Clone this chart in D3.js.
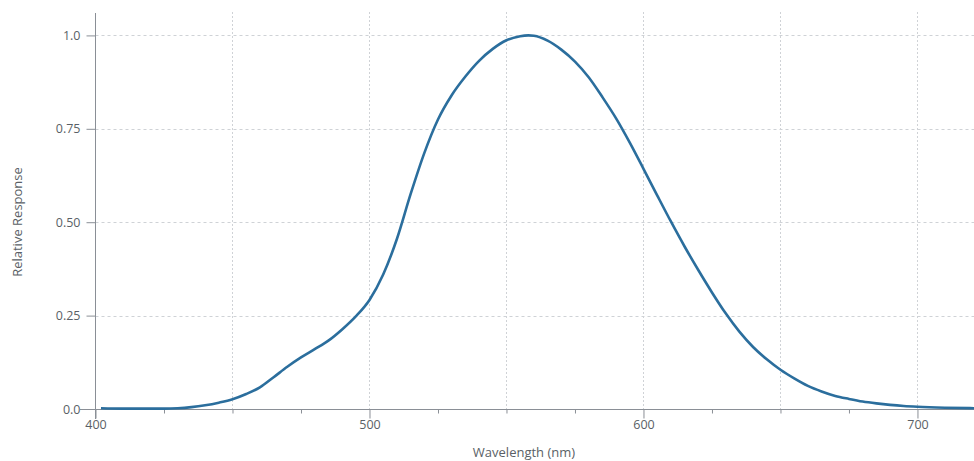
<!DOCTYPE html>
<html><head><meta charset="utf-8">
<script src="https://cdn.jsdelivr.net/npm/d3@7"></script>
<style>
body{margin:0;background:#fff;}
svg{display:block;}
text{font-family:"Open Sans","Noto Sans",sans-serif;}
</style></head>
<body>
<script>
const wavelength = [402,410,420,425,430,435,440,445,450,455,460,465,470,475,480,485,490,495,500,505,510,515,520,525,530,535,540,545,550,555,558,560,565,570,575,580,585,590,595,600,605,610,615,620,625,630,635,640,645,650,655,660,665,670,675,680,685,690,695,700,710,722];
const response   = [0.002,0.001,0.001,0.001,0.002,0.005,0.010,0.017,0.026,0.040,0.058,0.085,0.113,0.138,0.160,0.183,0.213,0.248,0.292,0.360,0.455,0.575,0.685,0.775,0.840,0.890,0.932,0.964,0.987,0.998,1.0,0.999,0.986,0.962,0.930,0.888,0.835,0.778,0.713,0.643,0.572,0.502,0.435,0.372,0.312,0.256,0.207,0.166,0.133,0.105,0.082,0.062,0.047,0.035,0.027,0.020,0.015,0.011,0.008,0.006,0.0035,0.002];
const xTickLabels = [400,500,600,700];
const yTickValues = [0,0.25,0.5,0.75,1.0];
const yTickLabels = ["0.0","0.25","0.50","0.75","1.0"];
const xGridValues = [450,500,550,600,650,700];
const xMinorTicks = [425,450,475,525,550,575,625,650,675,725];

const W=974,H=461;
const svg=d3.select("body").append("svg").attr("width",W).attr("height",H);
const x=d3.scaleLinear().domain([400,721]).range([95.5,975]);
const y=d3.scaleLinear().domain([0,1.06]).range([409,13]);
const axisCol="#8a8f96", gridCol="#cfd2d6", txtCol="#5a5f66";

// grid
svg.append("g").selectAll("line").data(yTickValues.filter(d=>d>0)).join("line")
  .attr("x1",x(400)).attr("x2",W).attr("y1",d=>Math.round(y(d))+0.5).attr("y2",d=>Math.round(y(d))+0.5)
  .attr("stroke",gridCol).attr("stroke-dasharray","3,3");
svg.append("g").selectAll("line").data(xGridValues).join("line")
  .attr("x1",d=>Math.round(x(d))+0.5).attr("x2",d=>Math.round(x(d))+0.5).attr("y1",12).attr("y2",409)
  .attr("stroke",gridCol).attr("stroke-dasharray","2,2");

// x axis
const gx=svg.append("g").attr("transform","translate(0,409.5)");
gx.call(d3.axisBottom(x).tickValues(xTickLabels).tickSize(9).tickFormat(d3.format("d")).tickPadding(2));
gx.append("g").call(d3.axisBottom(x).tickValues(xMinorTicks).tickSize(4).tickFormat(""));
gx.selectAll(".domain").remove();
gx.append("line").attr("x1",80).attr("x2",W).attr("stroke",axisCol);
gx.selectAll(".tick line").attr("stroke",axisCol);
gx.selectAll(".tick text").attr("fill",txtCol).style("font-size","12.5px").attr("font-family",null);

// y axis
const gy=svg.append("g").attr("transform","translate(95.5,0)");
gy.call(d3.axisLeft(y).tickValues(yTickValues).tickSize(9).tickFormat((d,i)=>yTickLabels[i]).tickPadding(6));
gy.selectAll(".domain").remove();
gy.append("line").attr("y1",13).attr("y2",419).attr("stroke",axisCol);
gy.selectAll(".tick line").attr("stroke",axisCol);
gy.selectAll(".tick text").attr("fill",txtCol).style("font-size","12.5px").attr("font-family",null);

// titles
svg.append("text").attr("x",524).attr("y",457).attr("text-anchor","middle")
  .attr("fill",txtCol).style("font-size","13px").text("Wavelength (nm)");
svg.append("text").attr("transform","translate(22,222) rotate(-90)").attr("text-anchor","middle")
  .attr("fill",txtCol).style("font-size","13px").text("Relative Response");

// line
svg.append("defs").append("clipPath").attr("id","clip").append("rect")
  .attr("x",95.5).attr("y",0).attr("width",W-95.5).attr("height",412);
svg.append("path").datum(wavelength.map((w,i)=>[w,response[i]]))
  .attr("clip-path","url(#clip)")
  .attr("fill","none").attr("stroke","#2b6e9d").attr("stroke-width",2.6)
  .attr("stroke-linejoin","round")
  .attr("d",d3.line().x(d=>x(d[0])).y(d=>y(d[1])).curve(d3.curveMonotoneX));
</script>
</body></html>
